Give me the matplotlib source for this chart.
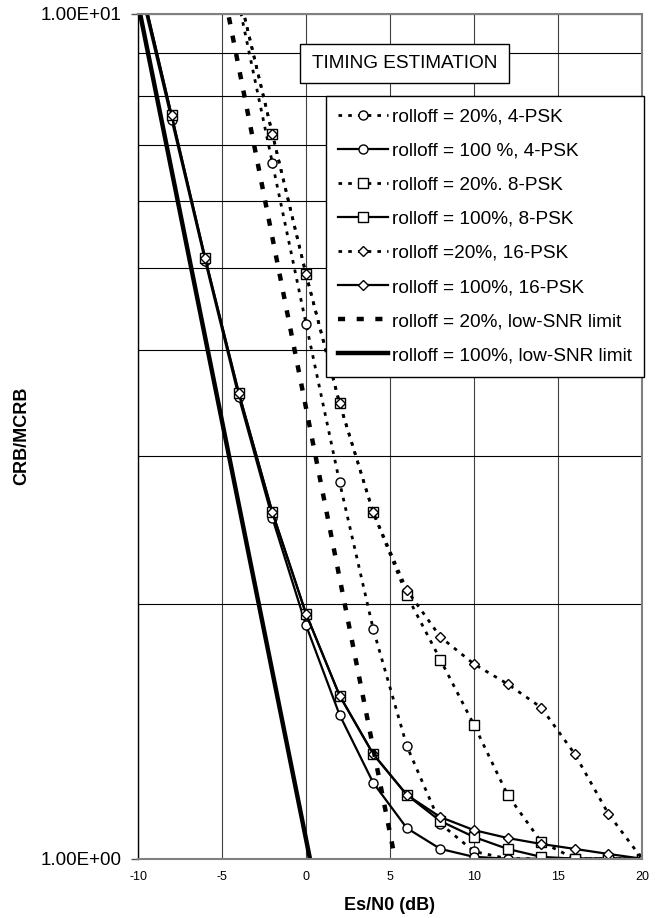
import matplotlib
matplotlib.use("Agg")
import matplotlib.pyplot as plt
from matplotlib.ticker import FixedLocator, NullFormatter

plt.rcParams['font.family'] = ['Liberation Sans', 'DejaVu Sans']

# Es/N0 (dB) where the curves were computed
snr = [-10, -8, -6, -4, -2, 0, 2, 4, 6, 8, 10, 12, 14, 16, 18, 20]

# rolloff = 100 %
psk4_100 = [11.0, 7.50, 5.10, 3.52, 2.53, 1.89, 1.48, 1.23, 1.087, 1.027, 1.005, 1.0, 1.0, 1.0, 1.0, 1.0]
psk8_100 = [11.2, 7.59, 5.14, 3.56, 2.57, 1.95, 1.56, 1.33, 1.19, 1.108, 1.061, 1.027, 1.005, 1.0, 1.0, 1.0]
psk16_100 = [11.2, 7.59, 5.14, 3.56, 2.57, 1.95, 1.56, 1.33, 1.19, 1.12, 1.081, 1.058, 1.041, 1.027, 1.013, 1.0]

# rolloff = 20 % (curves start at -4 dB)
snr20 = [-4, -2, 0, 2, 4, 6, 8, 10, 12, 14, 16, 18, 20]
psk4_20 = [10.3, 6.66, 4.30, 2.79, 1.87, 1.36, 1.10, 1.02, 1.0, 1.0, 1.0, 1.0, 1.0]
psk8_20 = [10.6, 7.21, 4.92, 3.46, 2.57, 2.05, 1.72, 1.44, 1.19, 1.047, 1.0, 1.0, 1.0]
psk16_20 = [10.6, 7.21, 4.92, 3.46, 2.57, 2.08, 1.83, 1.70, 1.61, 1.51, 1.33, 1.13, 1.0]

# low-SNR limits (straight lines, end points)
lim20_x = [-5, 6]
lim20_y = [10.9, 0.85]
lim100_x = [-10, 1]
lim100_y = [10.3, 0.84]

labels = ["rolloff = 20%, 4-PSK", "rolloff = 100 %, 4-PSK", "rolloff = 20%. 8-PSK",
          "rolloff = 100%, 8-PSK", "rolloff =20%, 16-PSK", "rolloff = 100%, 16-PSK",
          "rolloff = 20%, low-SNR limit", "rolloff = 100%, low-SNR limit"]

fig = plt.figure(figsize=(6.67, 9.18), dpi=100)
ax = fig.add_axes([138/667, 1-858.7/918, 504/667, 844.7/918])

dot = (0, (1.3, 2.2))
mk = dict(markerfacecolor='white', markeredgecolor='black', markeredgewidth=1.0)

h = []
h += ax.plot(snr20, psk4_20, color='black', lw=2, ls=dot, marker='o', ms=6.5, **mk)
h += ax.plot(snr, psk4_100, color='black', lw=1.6, ls='-', marker='o', ms=6.5, **mk)
h += ax.plot(snr20, psk8_20, color='black', lw=2, ls=dot, marker='s', ms=6.5, **mk)
h += ax.plot(snr, psk8_100, color='black', lw=1.6, ls='-', marker='s', ms=6.5, **mk)
h += ax.plot(snr20, psk16_20, color='black', lw=2, ls=dot, marker='D', ms=5.5, **mk)
h += ax.plot(snr, psk16_100, color='black', lw=1.6, ls='-', marker='D', ms=5.5, **mk)
h += ax.plot(lim20_x, lim20_y, color='black', lw=3.2, ls=(0, (1.6, 2.6)))
h += ax.plot(lim100_x, lim100_y, color='black', lw=3.2, ls='-')

ax.set_yscale('log')
ax.set_xlim(-10, 20)
ax.set_ylim(1, 10)

ax.yaxis.set_major_locator(FixedLocator([1, 10]))
ax.yaxis.set_minor_locator(FixedLocator([2, 3, 4, 5, 6, 7, 8, 9]))
ax.yaxis.set_minor_formatter(NullFormatter())
ax.set_yticklabels(["1.00E+00", "1.00E+01"], fontsize=13.5)
ax.set_xticks([-10, -5, 0, 5, 10, 15, 20])
ax.set_xticklabels(["-10", "-5", "0", "5", "10", "15", "20"], fontsize=9)
ax.tick_params(axis='y', which='major', length=5, width=1, color='#555555', pad=7)
ax.tick_params(axis='y', which='minor', length=0)
ax.tick_params(axis='x', length=0, pad=9)

ax.grid(True, which='both', axis='y', color='black', lw=0.8)
ax.grid(True, which='major', axis='x', color='#404040', lw=0.8)
for s in ['top', 'right', 'bottom']:
    ax.spines[s].set_color('#808080')
    ax.spines[s].set_linewidth(1.5)
ax.spines['left'].set_color('black')
ax.spines['left'].set_linewidth(1)
ax.set_axisbelow(True)

fig.text(390/667, 1-905/918, "Es/N0 (dB)", fontsize=13, fontweight='bold', ha='center', va='center')
fig.text(22/667, 1-436/918, "CRB/MCRB", fontsize=13, fontweight='bold', ha='center', va='center', rotation=90)

fig.text(404.5/667, 1-63.5/918, "TIMING ESTIMATION", fontsize=13.7, ha='center', va='center',
         bbox=dict(boxstyle='square,pad=0.6', fc='white', ec='black', lw=1))

leg = fig.legend(h, labels, loc='upper left', bbox_to_anchor=(326/667, 1-96/918),
                 fontsize=13.7, frameon=True, fancybox=False, framealpha=1,
                 edgecolor='black', handlelength=2.6, handletextpad=0.2,
                 labelspacing=0.88, borderpad=0.65, borderaxespad=0)
leg.get_frame().set_linewidth(1)

fig.savefig("out.png", dpi=100)
